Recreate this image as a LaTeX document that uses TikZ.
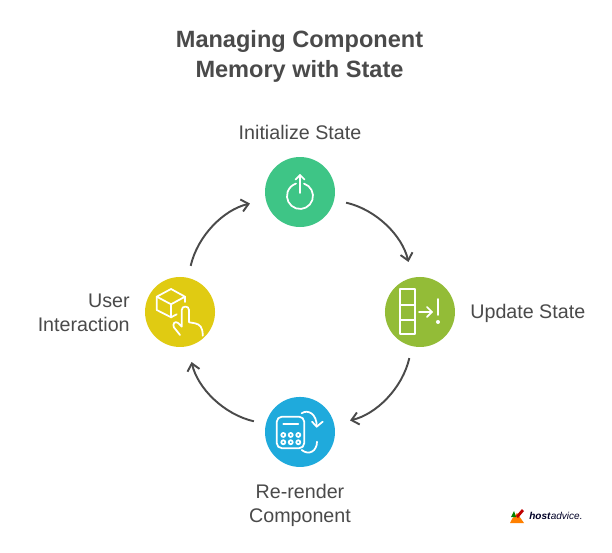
\documentclass[tikz,border=0pt]{standalone}
\usepackage{fontspec}
\setmainfont{Liberation Sans}
\usetikzlibrary{arrows.meta}
\definecolor{initcol}{HTML}{3EC586}
\definecolor{updatecol}{HTML}{93BC37}
\definecolor{rendercol}{HTML}{1FAADC}
\definecolor{usercol}{HTML}{E0CB12}
\definecolor{inkcol}{HTML}{4A4A4A}
\tikzset{
  stage/.style={circle,minimum size=1.4cm,inner sep=0pt},
  lab/.style={text=inkcol,inner sep=0pt,font=\fontsize{11.2}{13.6}\selectfont,align=center},
  icon/.style={draw=white,line width=1pt,line cap=round,line join=round},
  cycle/.style={draw=inkcol,line width=1.1pt,->,>={Straight Barb[length=4pt,width=7pt]},shorten <=0.24cm,shorten >=0.32cm},
}
\begin{document}
\begin{tikzpicture}[x=0.02cm,y=-0.02cm,node distance=2.4cm]
\useasboundingbox (0,0) rectangle (612,552);
\fill[white] (0,0) rectangle (612,552);

\node[text=inkcol,inner sep=0pt,font=\fontsize{13.4}{17}\selectfont\bfseries,align=center] (title) at (299.5,56.5) {Managing Component\hspace{0.1cm}\\Memory with State};

\node[stage,fill=initcol] (init) at (300,192) {};
\node[stage,fill=updatecol,below of = init,xshift=2.4cm] (update) {};
\node[stage,fill=rendercol,below of = update,xshift=-2.4cm] (render) {};
\node[stage,fill=usercol,below of = init,xshift=-2.4cm] (user) {};

\node[lab] (initlab) at (300,132) {Initialize State};
\node[lab,anchor=west] (updatelab) at (470,313) {Update State};
\node[lab] (renderlab) at (300,505) {Re-render\\Component};
\node[lab,align=right,anchor=east] (userlab) at (130,313) {User\\Interaction};

\draw[cycle] (init) to[bend left=32] (update);
\draw[cycle] (update) to[bend left=32] (render);
\draw[cycle] (render) to[bend left=32] (user);
\draw[cycle] (user) to[bend left=32] (init);

% power
\begin{scope}[shift={(init)}]
\draw[icon] (4,-8.4) arc (-72:252:13);
\draw[icon] (0,1) -- (0,-17);
\draw[icon] (-4.5,-12.5) -- (0,-17) -- (4.5,-12.5);
\end{scope}

% column, arrow and mark
\begin{scope}[shift={(update)}]
\draw[icon] (-20,-23) rectangle (-5,22);
\draw[icon] (-20,-7) -- (-5,-7);
\draw[icon] (-20,8) -- (-5,8);
\draw[icon] (-1,0) -- (12,0);
\draw[icon] (7,-5) -- (12,0) -- (7,5);
\draw[icon] (18,-13) -- (18,3);
\fill[white] (18,10) circle (2);
\end{scope}

% calculator
\begin{scope}[shift={(render)}]
\draw[icon,rounded corners=3] (-23.3,-15.3) rectangle (4.3,16.3);
\draw[icon] (-16.7,-8) -- (-1.7,-8);
\foreach \x in {-16.7,-9.3,-1.7}
  \foreach \y in {3,10.3}
    \draw[icon] (\x,\y) circle (2);
\draw[icon] (1.7,-18.7) .. controls (8,-23) and (17,-18) .. (16.7,-5.3);
\draw[icon] (12,-10.3) -- (16.7,-5.3) -- (22.7,-10.3);
\draw[icon] (17,9.7) .. controls (17,19) and (9,24) .. (1.7,18);
\end{scope}

% box and hand
\begin{scope}[shift={(user)}]
\draw[icon] (-23.3,-15.3) -- (-9,-23) -- (5,-15.3) -- (-9,-7.7) -- cycle;
\draw[icon] (-23.3,-15.3) -- (-23.3,-2) -- (-9,5.3) -- (-9,-7.7);
\draw[icon] (-9,5.3) -- (-3.3,2.3);
\draw[icon] (5,-15.3) -- (5,-10);
\draw[icon] (0,23) -- (-6,15.5) .. controls (-8,12) and (-5,8.5) .. (-2,11) -- (1.7,14.7) -- (1.7,-2) .. controls (1.7,-6.5) and (9,-6.5) .. (9,-2) -- (9,10.3) -- (15,11.3) .. controls (20,12.5) and (22.7,15) .. (22.7,23.7);
\end{scope}

% logo
\node[inner sep=0pt,anchor=west,text=black!85!blue,font=\fontsize{5.7}{7}\selectfont] (logo) at (529,516) {\textbf{\textit{host}}\textit{advice.}};
\fill[orange] (512,519) -- (517,513) -- (524,523) -- (510,523) -- cycle;
\fill[red!75!black] (516,516) -- (522,509) -- (524,511) -- (518,518) -- cycle;
\fill[green!50!black] (511,517) -- (514,511) -- (516,517) -- cycle;
\end{tikzpicture}
\end{document}
